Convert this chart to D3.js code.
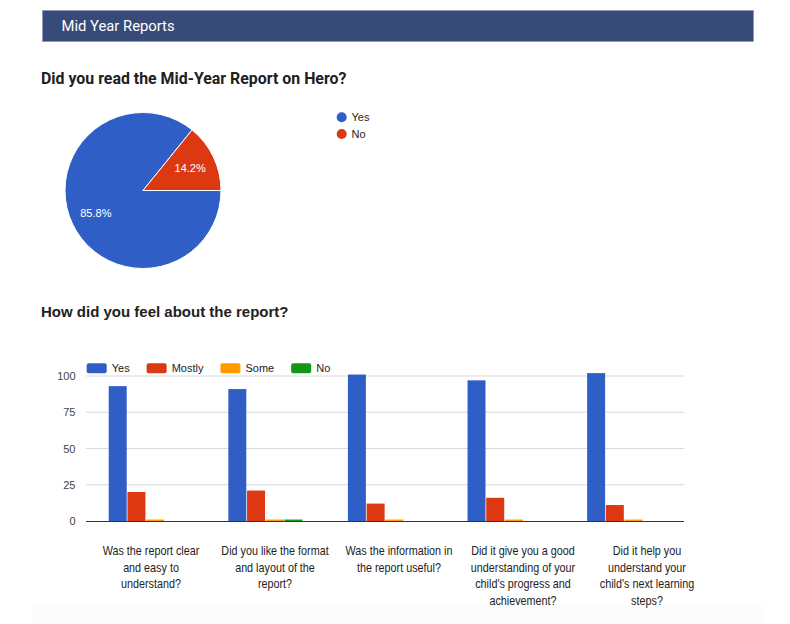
<!DOCTYPE html>
<html><head><meta charset="utf-8">
<script src="https://cdn.jsdelivr.net/npm/d3@7"></script>
<style>html,body{margin:0;padding:0;background:#fff;} svg{display:block;}</style>
</head><body>
<svg id="c" width="790" height="624"></svg>
<script>
// ---- data ----
const pageTitle = "Mid Year Reports";
const pieTitle = "Did you read the Mid-Year Report on Hero?";
const pieLabels = ["Yes", "No"];
const pieValues = [103, 17];
const barTitle = "How did you feel about the report?";
const categories = [
  "Was the report clear\nand easy to\nunderstand?",
  "Did you like the format\nand layout of the\nreport?",
  "Was the information in\nthe report useful?",
  "Did it give you a good\nunderstanding of your\nchild's progress and\nachievement?",
  "Did it help you\nunderstand your\nchild's next learning\nsteps?"
];
const seriesNames = ["Yes", "Mostly", "Some", "No"];
const yesValues = [93, 91, 101, 97, 102];
const mostlyValues = [20, 21, 12, 16, 11];
const someValues = [1, 1, 1, 1, 1];
const noValues = [0, 1, 0, 0, 0];
const yTicks = [0, 25, 50, 75, 100];
const palette = ["#2f5fc6", "#dc3912", "#ff9900", "#109618"];

// ---- drawing ----
const svg = d3.select("#c");
const SANS = "Arial, 'Liberation Sans', sans-serif";
const ROBOTO = "Roboto, 'Noto Sans', sans-serif";

function txt(parent, x, y, s, opts) {
  const g = parent.append("g").attr("transform", `translate(${x},${y}) scale(${opts.sx || 1},1)`);
  const t = g.append("text")
    .attr("font-family", opts.family || SANS)
    .attr("font-size", opts.size)
    .attr("font-weight", opts.weight || "normal")
    .attr("fill", opts.fill || "#222")
    .attr("text-anchor", opts.anchor || "start")
    .text(s);
  return t;
}

// faint bottom band
svg.append("rect").attr("x", 32).attr("y", 606).attr("width", 733).attr("height", 18).attr("fill", "#fcfcfc");

// header
svg.append("rect").attr("x", 42.5).attr("y", 10.5).attr("width", 711).attr("height", 31)
  .attr("fill", "#374a78").attr("stroke", "#8f99b5").attr("stroke-width", 0.8);
txt(svg, 61.5, 30.7, pageTitle, {family: ROBOTO, size: 14.8, fill: "#ffffff"});

// pie title
txt(svg, 41, 84, pieTitle, {family: ROBOTO, size: 15.9, weight: "bold", fill: "#212121"});

// pie
const pcx = 143, pcy = 190.5, pr = 78;
const pieG = svg.append("g").attr("transform", `translate(${pcx},${pcy})`);
const pieData = pieLabels.map((l, i) => ({label: l, value: pieValues[i], i}));
const total = d3.sum(pieValues);
const arcs = d3.pie().sort(null).value(d => d.value)
  .startAngle(Math.PI / 2).endAngle(Math.PI / 2 + 2 * Math.PI)(pieData);
const arc = d3.arc().innerRadius(0).outerRadius(pr);
const labelArc = d3.arc().innerRadius(pr * 0.67).outerRadius(pr * 0.67);
pieG.selectAll("path").data(arcs).join("path")
  .attr("d", arc).attr("fill", d => palette[d.data.i])
  .attr("stroke", "#fff").attr("stroke-width", 1);
const pct = d3.format(".1%");
arcs.forEach(d => {
  const [lx, ly] = labelArc.centroid(d);
  txt(pieG, lx, ly + 4, pct(d.data.value / total), {size: 11, fill: "#fff", anchor: "middle"});
});

// pie legend
pieData.forEach((d, i) => {
  const ly = 117.3 + i * 16.7;
  svg.append("circle").attr("cx", 341.7).attr("cy", ly).attr("r", 5).attr("fill", palette[i]);
  txt(svg, 351.5, ly + 4, d.label, {size: 11, fill: "#222"});
});

// bar title
txt(svg, 41, 316.7, barTitle, {family: SANS, size: 15, weight: "bold", fill: "#212121"});

// bar chart
const left = 86, right = 684, base = 521, top100 = 376;
const x0 = d3.scaleBand().domain(categories).range([left, right]);
const bw = x0.bandwidth();
const x1 = d3.scaleBand().domain(seriesNames).range([bw * 0.19, bw * 0.81]).paddingInner(0.04);
const y = d3.scaleLinear().domain([0, 100]).range([base, top100]);
const seriesValues = [yesValues, mostlyValues, someValues, noValues];

// gridlines
svg.append("g").selectAll("line").data(yTicks.filter(t => t !== 0)).join("line")
  .attr("x1", left).attr("x2", right).attr("y1", d => y(d)).attr("y2", d => y(d))
  .attr("stroke", "#d9d9d9").attr("stroke-width", 1);

// y tick labels
yTicks.forEach(t => txt(svg, 75.5, y(t) + 4, String(t), {size: 11, fill: "#444", anchor: "end"}));

// bars
const barsG = svg.append("g");
categories.forEach((c, ci) => {
  seriesNames.forEach((s, si) => {
    const v = seriesValues[si][ci];
    if (v <= 0) return;
    barsG.append("rect")
      .attr("x", x0(c) + x1(s)).attr("width", x1.bandwidth())
      .attr("y", y(v)).attr("height", base - y(v))
      .attr("fill", palette[si]);
  });
});

// baseline
svg.append("line").attr("x1", left).attr("x2", right).attr("y1", base + 0.5).attr("y2", base + 0.5)
  .attr("stroke", "#333").attr("stroke-width", 1);

// category labels
const xl = d3.scaleBand().domain(categories).range([89, 709]);
categories.forEach(c => {
  const cx = xl(c) + xl.bandwidth() / 2;
  c.split("\n").forEach((line, li) => {
    txt(svg, cx, 555 + li * 16.7, line, {size: 13, sx: 0.83, fill: "#222", anchor: "middle"});
  });
});

// bar legend
let lx = 86.7;
seriesNames.forEach((s, i) => {
  svg.append("rect").attr("x", lx).attr("y", 363.3).attr("width", 20).attr("height", 10)
    .attr("rx", 2).attr("fill", palette[i]);
  const t = txt(svg, lx + 25, 372.3, s, {size: 11, fill: "#222"});
  const w = t.node().getComputedTextLength();
  lx += 25 + w + 17;
});
</script>
</body></html>
